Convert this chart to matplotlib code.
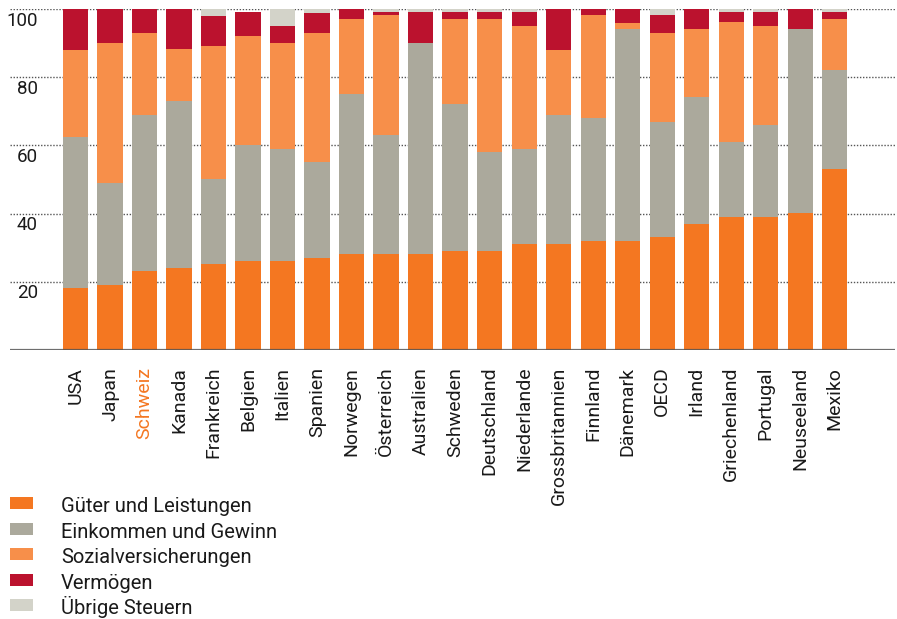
import matplotlib
matplotlib.use("Agg")
import matplotlib.pyplot as plt
from matplotlib.patches import Rectangle
from matplotlib.transforms import blended_transform_factory
import numpy as np

plt.rcParams['font.family'] = ['Roboto', 'DejaVu Sans']

countries = ["USA", "Japan", "Schweiz", "Kanada", "Frankreich", "Belgien", "Italien",
             "Spanien", "Norwegen", "Österreich", "Australien", "Schweden", "Deutschland",
             "Niederlande", "Grossbritannien", "Finnland", "Dänemark", "OECD", "Irland",
             "Griechenland", "Portugal", "Neuseeland", "Mexiko"]

gueter = [18.3, 19.1, 23.2, 24.1, 25.3, 26.1, 26.1, 27.1, 28.2, 28.2, 28.2, 29.0, 29.0,
          31.1, 31.1, 32.1, 32.1, 33.1, 37.0, 39.0, 39.0, 40.2, 53.1]
einkommen = [44.1, 29.9, 45.7, 49.0, 24.8, 34.0, 32.8, 28.1, 47.0, 34.8, 61.8, 43.1, 29.2,
             27.8, 37.8, 36.0, 62.0, 33.9, 37.2, 22.1, 27.0, 53.9, 29.1]
sozial = [25.6, 41.0, 24.1, 15.2, 39.0, 32.0, 31.1, 37.8, 21.9, 35.2, 0.0, 25.0, 38.9,
          36.1, 19.1, 30.1, 1.8, 26.0, 19.9, 35.1, 29.0, 0.0, 14.9]
vermoegen = [12.0, 10.0, 7.0, 11.7, 8.8, 7.0, 5.0, 5.8, 2.9, 0.9, 9.1, 2.0, 2.0,
             4.1, 12.0, 1.8, 4.1, 5.2, 5.9, 2.9, 4.1, 5.9, 2.0]
uebrige = [0.0, 0.0, 0.0, 0.0, 2.1, 0.0, 5.0, 1.2, 0.0, 0.9, 0.9, 0.9, 0.9,
           0.9, 0.0, 0.0, 0.0, 1.8, 0.0, 0.9, 0.9, 0.0, 0.9]

series_names = ["Güter und Leistungen", "Einkommen und Gewinn", "Sozialversicherungen",
                "Vermögen", "Übrige Steuern"]
series = [gueter, einkommen, sozial, vermoegen, uebrige]
colors = ["#f47721", "#aba99c", "#f78f4a", "#bb122e", "#d3d3c9"]

yticks = [20, 40, 60, 80, 100]
highlight = "Schweiz"

W, H = 897, 619
fig = plt.figure(figsize=(W / 100, H / 100), dpi=100)
ax = fig.add_axes([10 / W, 1 - 350 / H, 885 / W, 341 / H])

x = np.arange(len(countries))
bottom = np.zeros(len(countries))
for vals, col in zip(series, colors):
    v = np.array(vals)
    ax.bar(x, v, bottom=bottom, width=0.73, color=col, zorder=2, linewidth=0)
    bottom += v

ax.set_xlim(-1.90, 23.75)
ax.set_ylim(0, 100)

for s in ax.spines.values():
    s.set_visible(False)
ax.axhline(0, color="#555555", lw=1.6, alpha=0.85, zorder=3)

ax.set_yticks(yticks)
ax.yaxis.grid(True, linestyle=(0, (1, 1.2)), color="#555555", linewidth=1.0, zorder=0)
ax.tick_params(axis='y', length=0, labelleft=False)

tr = blended_transform_factory(ax.transAxes, ax.transData)
for v in yticks:
    ax.text(0.0316, v - 3.4, str(v), transform=tr, ha="right", va="center",
            fontsize=13.5, color="#1a1a1a")

ax.set_xticks(x)
ax.set_xticklabels(countries, rotation=90, fontsize=14, va="top", ha="center")
ax.tick_params(axis='x', length=0, pad=12)
for lbl in ax.get_xticklabels():
    if lbl.get_text() == highlight:
        lbl.set_color("#f47721")
    else:
        lbl.set_color("#1a1a1a")

# legend (manual layout)
baseline0 = 512.0
row_step = 25.6
for i, (name, col) in enumerate(zip(series_names, colors)):
    bl = baseline0 + i * row_step
    fig.patches.append(Rectangle((10 / W, 1 - (bl - 3) / H), 23 / W, 12 / H,
                                 transform=fig.transFigure, facecolor=col,
                                 edgecolor="none"))
    fig.text(61 / W, 1 - bl / H, name, ha="left", va="baseline",
             fontsize=14.5, color="#1a1a1a")

fig.savefig("out.png", dpi=100)
